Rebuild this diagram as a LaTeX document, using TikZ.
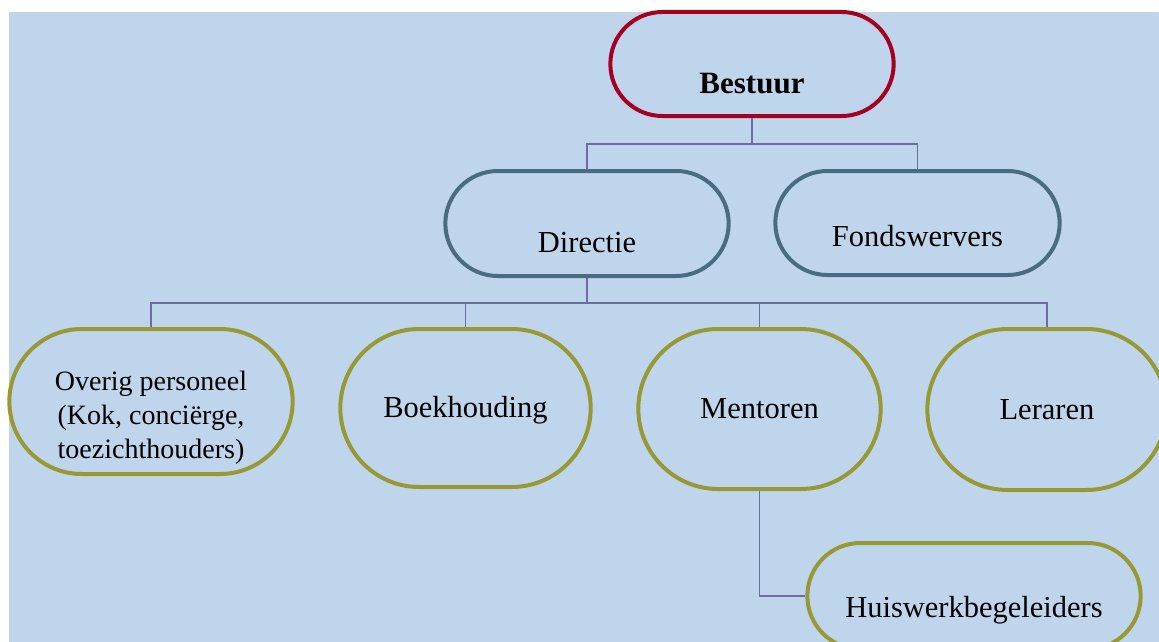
\documentclass[tikz,border=0pt]{standalone}
\usepackage{fontspec}
\setmainfont{Liberation Serif}
\usetikzlibrary{shapes.misc}
\definecolor{skyblue}{RGB}{190,213,236}
\definecolor{boardred}{RGB}{165,0,33}
\definecolor{officeslate}{RGB}{74,108,128}
\definecolor{staffolive}{RGB}{152,153,52}
\definecolor{linkpurple}{RGB}{108,108,160}

\begin{document}
\begin{tikzpicture}[x=1pt, y=-1pt,
    pill/.style={rounded rectangle, draw, line width=4pt, text depth=0pt,
        font=\fontsize{30.5}{34}\selectfont},
    boardpill/.style={pill, draw=boardred},
    officepill/.style={pill, draw=officeslate},
    staffpill/.style={pill, draw=staffolive},
    link/.style={linkpurple, line width=1.8pt}]
    % Background panel
    \useasboundingbox (0,0) rectangle (1159,642);
    \fill[skyblue] (9,12) rectangle (1159,642);

    % Top level: board
    \node[boardpill, minimum width=290pt, minimum height=104pt, text height=58pt,
        font=\fontsize{31}{34}\selectfont\bfseries] (bestuur) at (752,64) {Bestuur};

    % Second level: management and fundraisers
    \node[officepill, minimum width=290pt, minimum height=105pt, text height=57pt] (directie) at (587,223.5) {Directie};
    \node[officepill, minimum width=291pt, minimum height=104pt, text height=46pt] (fonds) at (917.5,223) {Fondswervers};

    % Third level: staff
    \node[staffpill, minimum width=290pt, minimum height=145pt, align=center,
        font=\fontsize{28}{34}\selectfont] (overig) at (151,401.5)
        {\rule{0pt}{45pt}Overig personeel\\(Kok, conciërge,\\toezichthouders)};
    \node[staffpill, minimum width=257pt, minimum height=158pt, text height=19pt] (boek) at (465.5,408) {Boekhouding};
    \node[staffpill, minimum width=249pt, minimum height=160pt, text height=19pt] (mentoren) at (759.5,409) {Mentoren};
    \node[staffpill, minimum width=246pt, minimum height=161pt, text height=19pt] (leraren) at (1047,409.5) {Leraren};

    % Fourth level: homework support
    \node[staffpill, minimum width=340pt, minimum height=106pt, text height=42pt] (huis) at (974,596) {Huiswerkbegeleiders};

    % Connectors
    \coordinate (bus1) at (752,144);
    \coordinate (bus2) at (587,303);
    \draw[link] (bestuur.south) -- (bus1) -| (directie.north);
    \draw[link] (bus1) -| (fonds.north);
    \draw[link] (directie.south) -- (bus2);
    \foreach \n in {overig,boek,mentoren,leraren}
        \draw[link] (bus2) -| (\n.north);
    \draw[link] (mentoren.south) |- (huis.west);
\end{tikzpicture}
\end{document}
